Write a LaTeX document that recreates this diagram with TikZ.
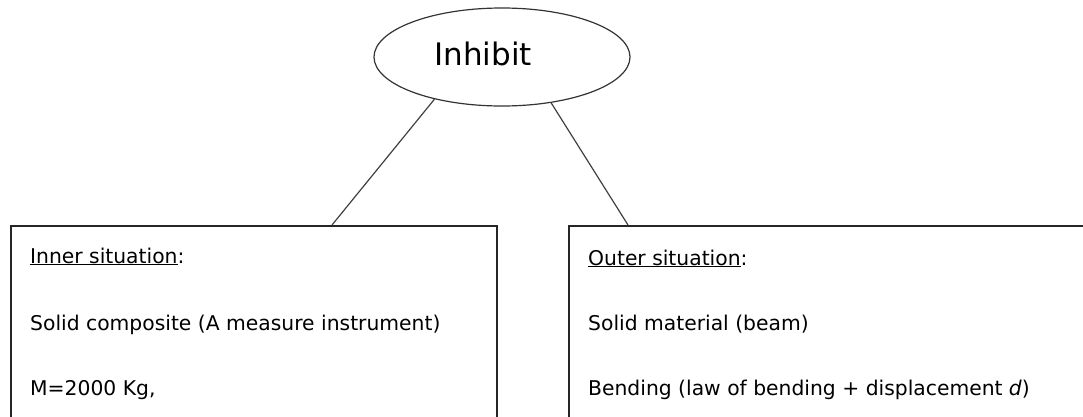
\documentclass[tikz,border=0pt]{standalone}
\usepackage{fontspec}
\setmainfont{DejaVu Sans}
\usetikzlibrary{shapes.geometric}
\tikzset{
  boxframe/.style={draw=black!85, line width=1.6pt, rectangle, anchor=north west, inner sep=0pt},
  boxtext/.style={anchor=base west, inner sep=0pt, font=\fontsize{20.3}{24}\selectfont},
  link/.style={draw=black!75, line width=1.2pt},
}
\begin{document}
\begin{tikzpicture}[x=1pt,y=-1pt]
\useasboundingbox (0,0) rectangle (1083,416);
\clip (0,0) rectangle (1083,416);
% ellipse
\node[ellipse, draw=black!80, line width=1.2pt, minimum width=256pt, minimum height=98pt, inner sep=0pt] (inh) at (502,57) {};
\node[anchor=base, inner sep=0pt, font=\fontsize{31}{36}\selectfont] (inhtxt) at (483,65) {Inhibit};
% boxes
\node[boxframe, minimum width=486pt, minimum height=230pt] (L) at (10,225) {};
\node[boxframe, minimum width=540pt, minimum height=230pt] (R) at (568,225) {};
\coordinate (lt) at (332,225);
\coordinate (rt) at (628,225);
\draw[link] (inh.212.7) -- (lt);
\draw[link] (inh.317.3) -- (rt);
% left texts
\node[boxtext] (l1) at (30,263) {\underline{Inner situation}:};
\node[boxtext] (l2) at (30,330) {Solid composite (A measure instrument)};
\node[boxtext] (l3) at (30,395) {M=2000 Kg,};
% right texts
\node[boxtext] (r1) at (588,265) {\underline{Outer situation}:};
\node[boxtext] (r2) at (588,330) {Solid material (beam)};
\node[boxtext] (r3) at (588,395) {Bending (law of bending + displacement \textit{d})};
\end{tikzpicture}
\end{document}
